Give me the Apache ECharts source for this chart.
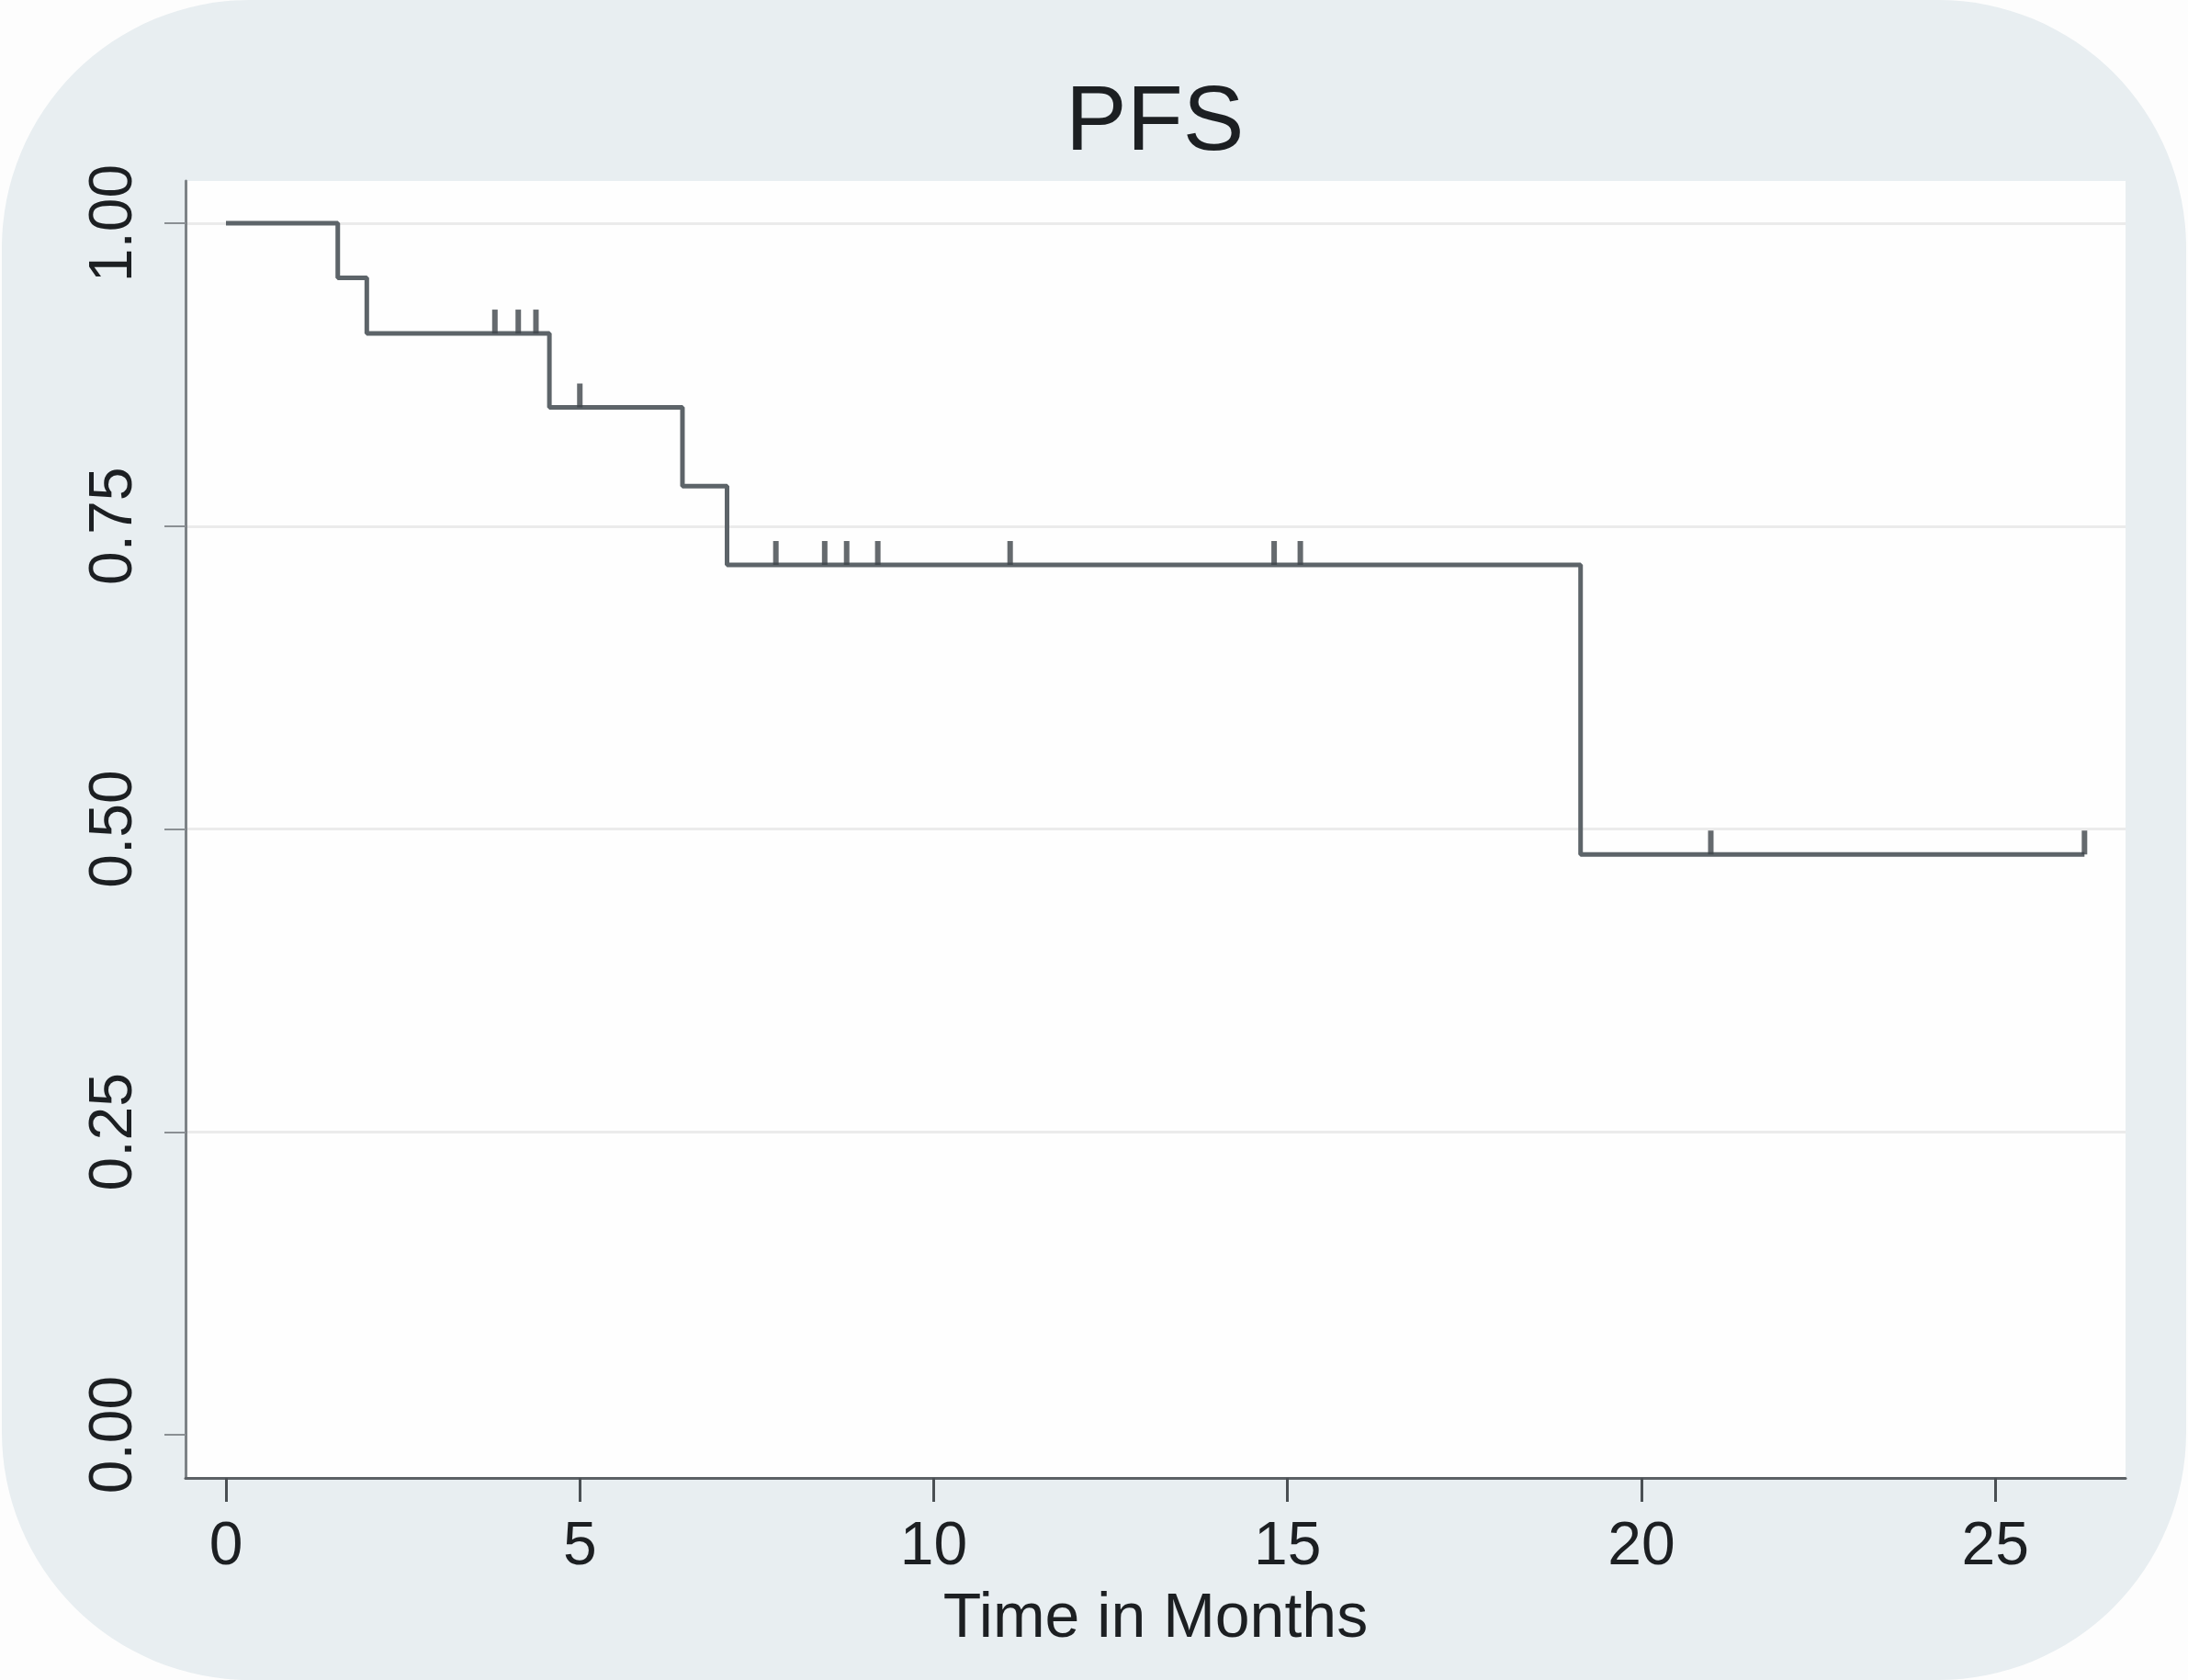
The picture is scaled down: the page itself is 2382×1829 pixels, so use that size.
<!DOCTYPE html>
<html>
<head>
<meta charset="utf-8">
<title>PFS</title>
<script src="https://cdn.jsdelivr.net/npm/echarts@6/dist/echarts.min.js"></script>
<style>
  html, body { margin: 0; padding: 0; background: #fdfdfd; overflow: hidden; }
  #bg {
    position: absolute; left: 2px; top: 0;
    width: 2378px; height: 1829px;
    background: #e8eef1;
    border-radius: 270px;
  }
  #chart {
    position: absolute; left: 0; top: 0;
    width: 2382px; height: 1829px;
  }
</style>
</head>
<body>
<div id="bg"></div>
<div id="chart"></div>
<script>
// Kaplan-Meier estimate of progression-free survival
const stepTimes    = [0, 1.58, 1.99, 4.57, 6.45, 7.08, 19.14, 26.26];
const stepSurvival = [1.000, 0.955, 0.909, 0.848, 0.783, 0.718, 0.479, 0.479];

// censored observations (time, survival level at that time)
const censorTimes    = [3.80, 4.13, 4.38, 5.00, 7.77, 8.46, 8.77, 9.21, 11.08, 14.81, 15.18, 20.98, 26.26];
const censorSurvival = [0.909, 0.909, 0.909, 0.848, 0.718, 0.718, 0.718, 0.718, 0.718, 0.718, 0.718, 0.479, 0.479];

// axis ticks
const xTicks = [0, 5, 10, 15, 20, 25];
const yTicks = [0, 0.25, 0.5, 0.75, 1];

const chart = echarts.init(document.getElementById('chart'), null, { width: 2382, height: 1829 });

const fontFamily = '"Liberation Sans", Arial, Helvetica, sans-serif';

const option = {
  backgroundColor: 'transparent',
  animation: false,
  title: {
    text: 'PFS',
    left: 1160,
    top: 85,
    padding: 0,
    textStyle: { fontFamily, fontSize: 100, fontWeight: 'normal', color: '#1c1f22' }
  },
  grid: {
    left: 202, right: 68, top: 197, bottom: 220,
    show: true, backgroundColor: '#fefefe', borderWidth: 0
  },
  xAxis: {
    type: 'value',
    min: -0.571, max: 26.84,
    name: 'Time in Months',
    nameLocation: 'middle',
    nameGap: 120,
    nameTextStyle: { fontFamily, fontSize: 68, color: '#1c1f22' },
    axisLine: { show: true, onZero: false, lineStyle: { color: '#5c6165', width: 3 } },
    axisTick: { show: true, length: 26, customValues: xTicks, lineStyle: { color: '#4a4f53', width: 3 } },
    axisLabel: {
      customValues: xTicks, margin: 43,
      fontFamily, fontSize: 66, color: '#1c1f22',
      formatter: v => String(v)
    },
    splitLine: { show: false }
  },
  yAxis: {
    type: 'value',
    min: -0.0356, max: 1.0349,
    axisLine: { show: true, onZero: false, lineStyle: { color: '#7d8286', width: 3 } },
    axisTick: { show: true, length: 23, customValues: yTicks, lineStyle: { color: '#8a8f93', width: 2 } },
    axisLabel: {
      customValues: yTicks, margin: 44, rotate: 90,
      fontFamily, fontSize: 66, color: '#1c1f22',
      formatter: v => v.toFixed(2)
    },
    splitLine: {
      show: true,
      lineStyle: { color: ['#fefefe', '#ebebeb', '#ebebeb', '#ebebeb', '#ebebeb'], width: 3 }
    }
  },
  series: [
    {
      type: 'line',
      step: 'end',
      data: stepTimes.map((t, i) => [t, stepSurvival[i]]),
      showSymbol: false,
      lineStyle: { color: '#5d6469', width: 5 },
      z: 3
    },
    {
      type: 'scatter',
      data: censorTimes.map((t, i) => [t, censorSurvival[i]]),
      symbol: 'rect',
      symbolSize: [6, 26],
      symbolOffset: [0, '-50%'],
      itemStyle: { color: '#3f454a' },
      z: 4
    }
  ]
};

chart.setOption(option);
</script>
</body>
</html>
